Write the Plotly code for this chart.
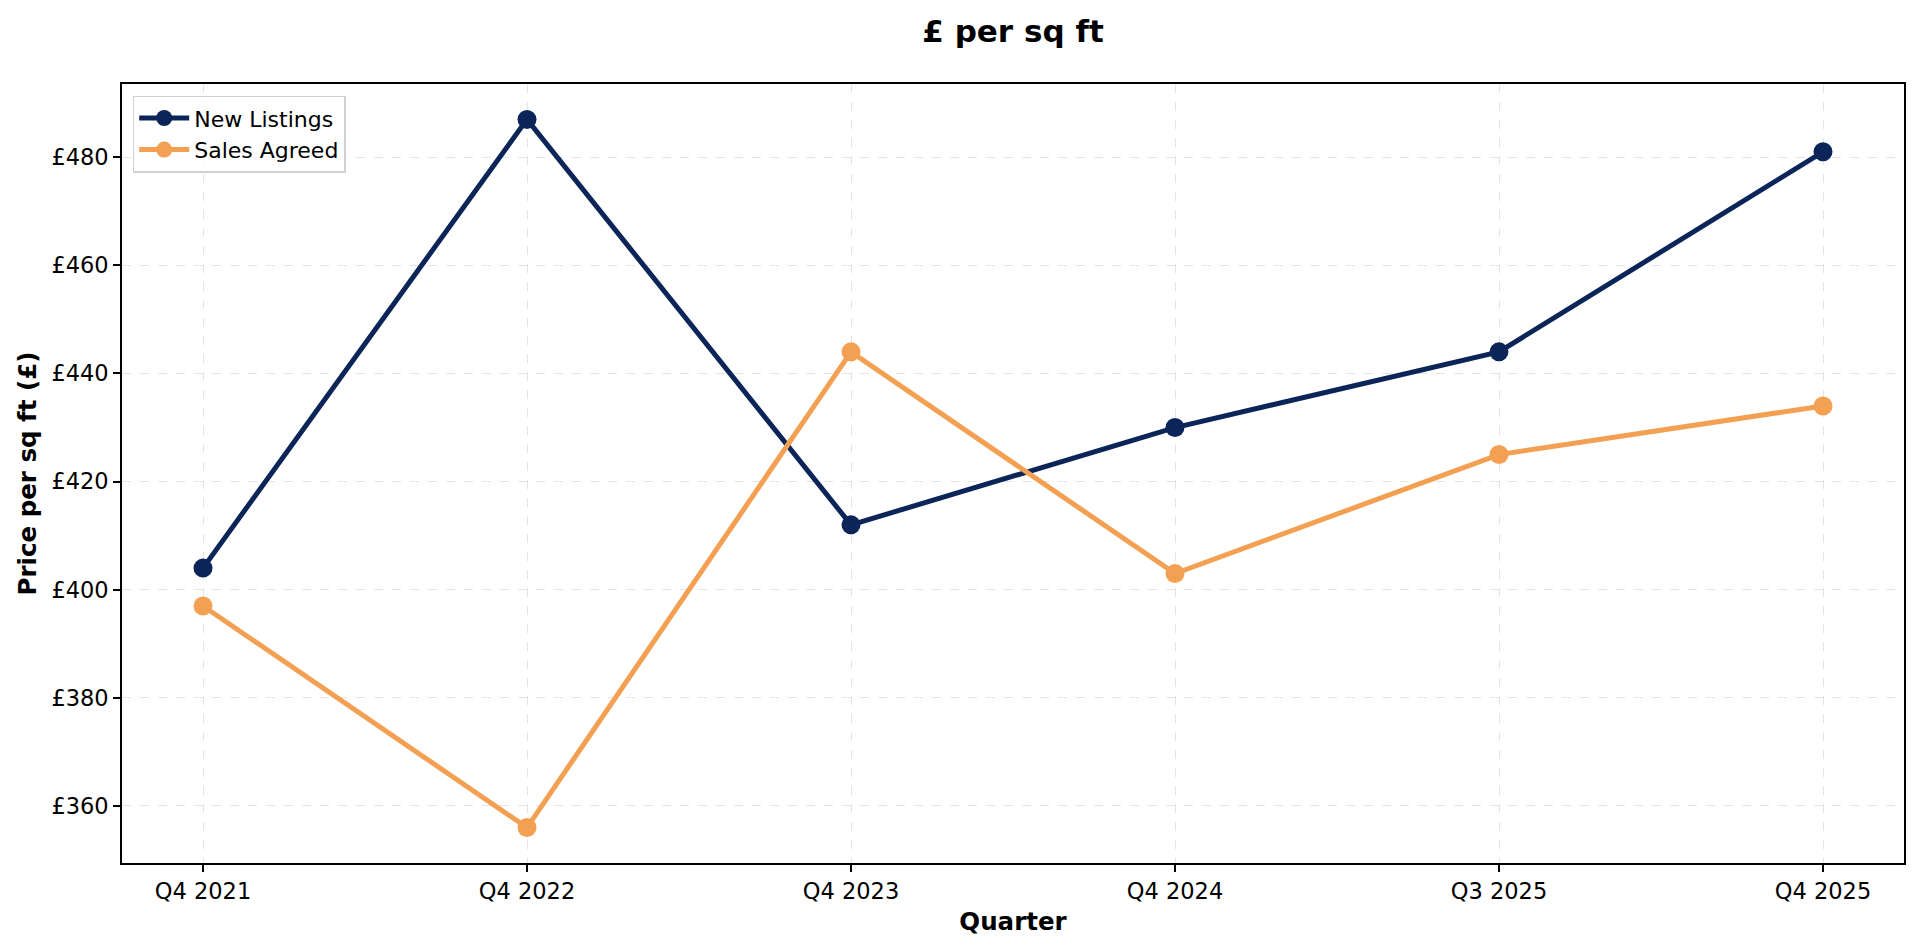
import plotly.graph_objects as go

quarters = ["Q4 2021", "Q4 2022", "Q4 2023", "Q4 2024", "Q3 2025", "Q4 2025"]
new_listings = [404, 487, 412, 430, 444, 481]
sales_agreed = [397, 356, 444, 403, 425, 434]
y_ticks = [360, 380, 400, 420, 440, 460, 480]

NAVY = "#0b2559"
ORANGE = "#f4a052"
FONT = "DejaVu Sans"

fig = go.Figure()
fig.add_trace(go.Scatter(
    x=list(range(len(quarters))), y=new_listings, name="New Listings",
    mode="lines+markers",
    line=dict(color=NAVY, width=5),
    marker=dict(color=NAVY, size=19),
))
fig.add_trace(go.Scatter(
    x=list(range(len(quarters))), y=sales_agreed, name="Sales Agreed",
    mode="lines+markers",
    line=dict(color=ORANGE, width=5),
    marker=dict(color=ORANGE, size=19),
))

ymin, ymax = min(new_listings + sales_agreed), max(new_listings + sales_agreed)
pad = (ymax - ymin) * 0.05
n = len(quarters)

grid = dict(showgrid=True, gridcolor="#e4e4e4", griddash="dash", gridwidth=1.4)
axis_common = dict(
    showline=True, linecolor="black", linewidth=1.6, mirror=True,
    ticks="outside", ticklen=7, tickwidth=1.6, tickcolor="black",
    tickfont=dict(family=FONT, size=22.5, color="black"),
    zeroline=False, **grid,
)

fig.update_layout(
    width=1920, height=951,
    margin=dict(l=122, r=16, t=84, b=88, autoexpand=False),
    paper_bgcolor="white", plot_bgcolor="white",
    font=dict(family=FONT, color="black"),
    title=dict(
        text="<b>£ per sq ft</b>", x=0.5, xref="paper", xanchor="center",
        y=1 - 31 / 951, yref="container", yanchor="middle",
        font=dict(family=FONT, size=31, color="black"),
    ),
    xaxis=dict(
        range=[-0.05 * (n - 1), (n - 1) * 1.05],
        tickmode="array", tickvals=list(range(n)), ticktext=quarters,
        title=dict(text="<b>Quarter</b>", font=dict(family=FONT, size=24.5), standoff=10),
        automargin=False,
        **axis_common,
    ),
    yaxis=dict(
        range=[ymin - pad, ymax + pad],
        tickmode="array", tickvals=y_ticks, ticktext=[f"£{v}" for v in y_ticks],
        title=dict(text="<b>Price per sq ft (£)</b>", font=dict(family=FONT, size=24.5), standoff=8),
        automargin=False,
        **axis_common,
    ),
    legend=dict(
        x=0.006, y=0.985, xanchor="left", yanchor="top",
        bgcolor="rgba(255,255,255,0.8)", bordercolor="#d0d0d0", borderwidth=1.5,
        font=dict(family=FONT, size=22, color="black"),
        itemwidth=50, tracegroupgap=4,
    ),
    showlegend=True,
)

fig.write_html("out.html", config={"displayModeBar": False})

with open("out.html", "r", encoding="utf-8") as f:
    html = f.read()
html = html.replace("<head>", "<head><style>html,body{margin:0;padding:0;}</style>", 1)
with open("out.html", "w", encoding="utf-8") as f:
    f.write(html)
